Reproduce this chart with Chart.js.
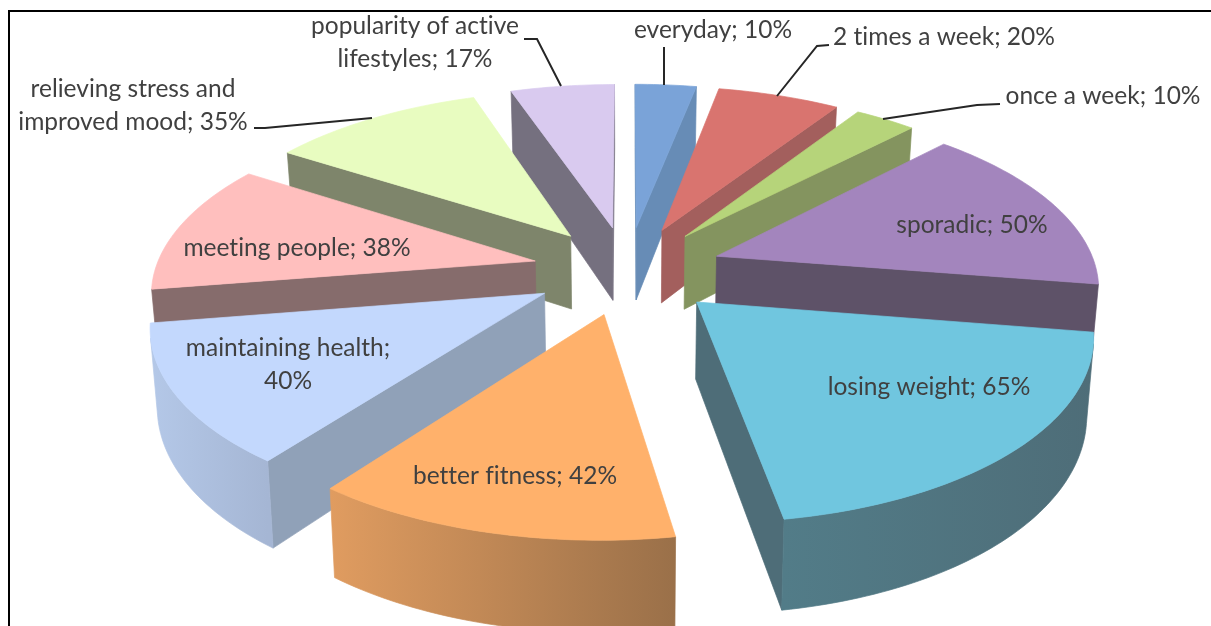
<!DOCTYPE html>
<html lang="en">

<head>
    <meta charset="UTF-8">
    <title>Exercise habits and motives</title>
    <script src="https://cdn.jsdelivr.net/npm/chart.js@4/dist/chart.umd.min.js"></script>
    <style>
        html, body { margin: 0; padding: 0; background: #fff; overflow: hidden; }
        .frame { position: absolute; left: 0; top: 0; width: 1211px; height: 626px; }
        .frame::before {
            content: ""; position: absolute; left: 8px; top: 10px; right: 0; bottom: 0;
            border-left: 2px solid #000; border-top: 2px solid #000;
        }
        canvas { position: absolute; left: 0; top: 0; }
    </style>
</head>

<body>
    <div class="frame"><canvas id="pie" width="1211" height="626"></canvas></div>
    <script>
        const categories = ['everyday', '2 times a week', 'once a week', 'sporadic', 'losing weight',
            'better fitness', 'maintaining health', 'meeting people', 'relieving stress and improved mood',
            'popularity of active lifestyles'];
        const percents = [10, 20, 10, 50, 65, 42, 40, 38, 35, 17];

        const topColors = ['#7aa3d8', '#d9746f', '#b6d47a', '#a385bd', '#70c6df', '#ffb16b', '#c3d8fd', '#ffbfbe', '#e8fcc0', '#d9caef'];
        const sideColors = ['#678cb6', '#a35f5d', '#84945f', '#5e5268', '#4e6d78', '#9a7049', '#90a1b8', '#866c6c', '#7e856b', '#75707f'];
        const rimLeft = ['#678cb6', '#a35f5d', '#84945f', '#5e5268', '#527c88', '#e09c60', '#b4c8e8', '#866c6c', '#7e856b', '#75707f'];
        const rimRight = ['#678cb6', '#a35f5d', '#84945f', '#5e5268', '#4e6d78', '#9a7049', '#a5b6d4', '#866c6c', '#7e856b', '#75707f'];

        // label text lines, centre x and middle y
        const labelSpots = [
            { lines: ['everyday; 10%'], x: 713, y: 30 },
            { lines: ['2 times a week; 20%'], x: 944, y: 37 },
            { lines: ['once a week; 10%'], x: 1103, y: 96 },
            { lines: ['sporadic; 50%'], x: 972, y: 225 },
            { lines: ['losing weight; 65%'], x: 929, y: 387 },
            { lines: ['better fitness; 42%'], x: 515, y: 476 },
            { lines: ['maintaining health;', '40%'], x: 288, y: 348 },
            { lines: ['meeting people; 38%'], x: 297, y: 248 },
            { lines: ['relieving stress and', 'improved mood; 35%'], x: 133, y: 89 },
            { lines: ['popularity of active', 'lifestyles; 17%'], x: 415, y: 26 }
        ];
        const leaders = [
            [[664, 47], [664, 85]],
            [[829, 45], [817, 46], [777, 96]],
            [[1000, 104], [977, 105], [883, 119]],
            [[254, 128], [265, 128], [372, 118]],
            [[524, 39], [537, 39], [561, 86]]
        ];

        const planeRadius = 380;
        const explode = 95;
        const tilt = 0.465;
        const focal = 2520;
        const depth = 75;
        const lineGap = 33;

        function project(el, px, py, z) {
            const s = 1 / (1 - py / focal);
            const shrink = 1 - z * 0.015;
            return [el.x + px * s * shrink, el.y + tilt * py * s + z * depth * s];
        }

        function sliceOutline(el) {
            const mid = (el.startAngle + el.endAngle) / 2;
            const ox = Math.cos(mid) * el.options.offset;
            const oy = Math.sin(mid) * el.options.offset;
            const pts = [[ox, oy]];
            const steps = Math.ceil((el.endAngle - el.startAngle) / 0.02);
            for (let i = 0; i <= steps; i++) {
                const a = el.startAngle + (el.endAngle - el.startAngle) * i / steps;
                pts.push([ox + Math.cos(a) * planeRadius, oy + Math.sin(a) * planeRadius]);
            }
            return pts;
        }

        function fillPoly(ctx, poly, color) {
            ctx.beginPath();
            poly.forEach(function (p, i) {
                if (i == 0) ctx.moveTo(p[0], p[1]);
                else ctx.lineTo(p[0], p[1]);
            });
            ctx.closePath();
            ctx.fillStyle = color;
            ctx.fill();
            ctx.strokeStyle = color;
            ctx.lineWidth = 0.7;
            ctx.stroke();
        }

        function isFrontFacing(quad) {
            let area = 0;
            for (let i = 0; i < 4; i++) {
                const a = quad[i], b = quad[(i + 1) % 4];
                area += a[0] * b[1] - b[0] * a[1];
            }
            return area < 0;
        }

        function drawSlice(ctx, el, index) {
            const outline = sliceOutline(el);
            const top = outline.map(function (p) { return project(el, p[0], p[1], 0); });
            const bottom = outline.map(function (p) { return project(el, p[0], p[1], 1); });
            const n = outline.length;

            // radial faces first, then the rim
            [0, n - 1].forEach(function (i) {
                const j = (i + 1) % n;
                const quad = [top[i], top[j], bottom[j], bottom[i]];
                if (isFrontFacing(quad)) fillPoly(ctx, quad, sideColors[index]);
            });

            const xs = top.slice(1).map(function (p) { return p[0]; });
            const grad = ctx.createLinearGradient(Math.min.apply(null, xs), 0, Math.max.apply(null, xs), 0);
            grad.addColorStop(0, rimLeft[index]);
            grad.addColorStop(1, rimRight[index]);
            // visible rim pieces joined into one strip so no seams show
            let upper = [], lower = [];
            function flushRim() {
                if (upper.length) fillPoly(ctx, upper.concat(lower.reverse()), grad);
                upper = [];
                lower = [];
            }
            for (let i = 1; i < n - 1; i++) {
                const quad = [top[i], top[i + 1], bottom[i + 1], bottom[i]];
                if (isFrontFacing(quad)) {
                    if (!upper.length) {
                        upper.push(top[i]);
                        lower.push(bottom[i]);
                    }
                    upper.push(top[i + 1]);
                    lower.push(bottom[i + 1]);
                } else {
                    flushRim();
                }
            }
            flushRim();

            fillPoly(ctx, top, el.options.backgroundColor);
        }

        const tiltedPie = {
            id: 'tiltedPie',
            beforeDatasetDraw: function (chart) {
                const ctx = chart.ctx;
                const arcs = chart.getDatasetMeta(0).data.map(function (el, i) { return { el: el, i: i }; });
                // paint from the back of the pie to the front
                arcs.sort(function (a, b) {
                    return Math.sin((a.el.startAngle + a.el.endAngle) / 2) - Math.sin((b.el.startAngle + b.el.endAngle) / 2);
                });
                ctx.save();
                arcs.forEach(function (a) { drawSlice(ctx, a.el, a.i); });
                ctx.restore();
                return false;
            },
            afterDraw: function (chart) {
                const ctx = chart.ctx;
                ctx.save();
                ctx.strokeStyle = '#262626';
                ctx.lineWidth = 2;
                leaders.forEach(function (line) {
                    ctx.beginPath();
                    line.forEach(function (p, i) {
                        if (i == 0) ctx.moveTo(p[0], p[1]);
                        else ctx.lineTo(p[0], p[1]);
                    });
                    ctx.stroke();
                });
                ctx.fillStyle = '#404040';
                ctx.font = '24.5px Lato';
                ctx.letterSpacing = '0.01px';
                ctx.textAlign = 'center';
                ctx.textBaseline = 'middle';
                labelSpots.forEach(function (spot) {
                    spot.lines.forEach(function (text, i) {
                        ctx.fillText(text, spot.x, spot.y + i * lineGap);
                    });
                });
                ctx.restore();
            }
        };

        new Chart(document.getElementById('pie').getContext('2d'), {
            type: 'pie',
            data: {
                labels: categories,
                datasets: [{
                    data: percents,
                    backgroundColor: topColors,
                    offset: explode,
                    borderWidth: 0
                }]
            },
            options: {
                responsive: false,
                animation: false,
                events: [],
                layout: { padding: { left: 44, bottom: 86 } },
                plugins: { legend: { display: false }, tooltip: { enabled: false } }
            },
            plugins: [tiltedPie]
        });
    </script>
</body>
</html>
